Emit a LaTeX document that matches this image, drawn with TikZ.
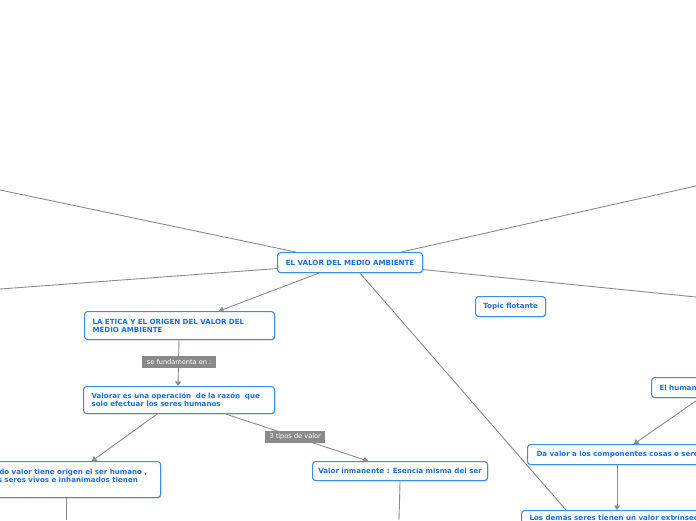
\documentclass[tikz,border=0pt]{standalone}
\usepackage{fontspec}
\setmainfont{DejaVu Sans}
\usetikzlibrary{calc,arrows.meta,shadows}
\definecolor{bb}{HTML}{3A8EEA}
\definecolor{tb}{HTML}{1E6FD9}
\definecolor{ln}{HTML}{8C8C8C}
\definecolor{lab}{HTML}{8A8A8A}
\begin{document}
\begin{tikzpicture}[x=1pt,y=-1pt,
 box/.style={draw=bb, rounded corners=3pt, line width=1.1pt, fill=white, text=tb,
   font=\fontsize{7.1}{8.2}\selectfont\bfseries, inner ysep=0pt, inner xsep=8pt,
   align=left, anchor=north west,
   drop shadow={shadow xshift=0.8pt, shadow yshift=-0.8pt, opacity=0.2, fill=black}},
 con/.style={draw=ln, line width=0.9pt},
 arr/.style={con, -{Triangle[width=6pt,length=4.5pt]}},
 lbl/.style={fill=lab, text=white, font=\fontsize{6.6}{7}\selectfont, inner xsep=3pt, inner ysep=0pt,
   minimum height=11.5pt, anchor=north west, align=left}]
\path[use as bounding box, clip] (0,0) rectangle (696,520);
\fill[white] (0,0) rectangle (696,520);

% free ends
\coordinate (tl) at (0,190);
\coordinate (ml) at (0,289);
\coordinate (tr) at (696,186);
\coordinate (mr) at (696,297);
\coordinate (bl) at (66,520);
\coordinate (bi) at (399,520);

% nodes
\node[box, minimum width=145pt, minimum height=20pt, align=center, inner xsep=0pt] (c) at (277,252) {EL VALOR DEL MEDIO AMBIENTE};
\node[box, text width=174pt, minimum height=28pt] (e) at (84,311) {LA ETICA Y EL ORIGEN DEL VALOR DEL\\MEDIO AMBIENTE};
\node[box, text width=175pt, minimum height=27pt] (v) at (83,386) {Valorar es una operación\ \ de la razón\ \ que\\solo efectuar los seres humanos};
\node[box, text width=162pt, minimum height=36pt] (L) at (-18,461) {Todo valor tiene origen el ser humano ,\\los seres vivos e inhanimados tienen\\\mbox{}};
\node[box, minimum width=175pt, minimum height=19pt, align=center, inner xsep=0pt] (i) at (312,461) {Valor inmanente : Esencia misma del ser};
\node[box, minimum width=70pt, minimum height=20pt, align=center, inner xsep=0pt] (t) at (475,296) {Topic flotante};
\node[box, text width=84pt, minimum height=20pt] (H) at (651,377) {El humano};
\node[box, text width=204pt, minimum height=20pt, inner xsep=9pt] (Da) at (527,444) {Da valor a los componentes cosas o seres};
\node[box, text width=234pt, minimum height=22pt] (D) at (521,510) {Los demás seres tienen un valor extrínseco\\\mbox{}};

% connectors
\draw[con] ([xshift=19pt]c.north west) -- (tl);
\draw[con] ([yshift=-6pt]c.west) -- (ml);
\draw[con] ([xshift=-22pt]c.north east) -- (tr);
\draw[con] ([yshift=-7pt]c.east) -- (mr);
\draw[arr] ([xshift=42pt]c.south west) -- ([xshift=135pt]e.north west);
\draw[con] ([xshift=83pt]c.south west) -- ([xshift=45pt]D.north west);
\draw[arr] ([xshift=95pt]e.south west) -- ([xshift=95pt]v.north west);
\draw[arr] ([xshift=74pt]v.south west) -- ([xshift=110pt]L.north west);
\draw[arr] ([xshift=143pt]v.south west) -- ([xshift=56pt]i.north west);
\draw[con] ([xshift=84pt]L.south west) -- (bl);
\draw[con] (i.south) -- (bi);
\draw[arr] ([xshift=49pt]H.south west) -- ([xshift=107pt]Da.north west);
\draw[arr] ([xshift=90pt]Da.south west) -- ([xshift=96pt]D.north west);

% labels
\node[lbl, minimum width=74pt] (l1) at (142,356) {se fundamenta en :};
\node[lbl, minimum width=60pt] (l2) at (265,431) {3 tipos de valor};
\end{tikzpicture}
\end{document}
